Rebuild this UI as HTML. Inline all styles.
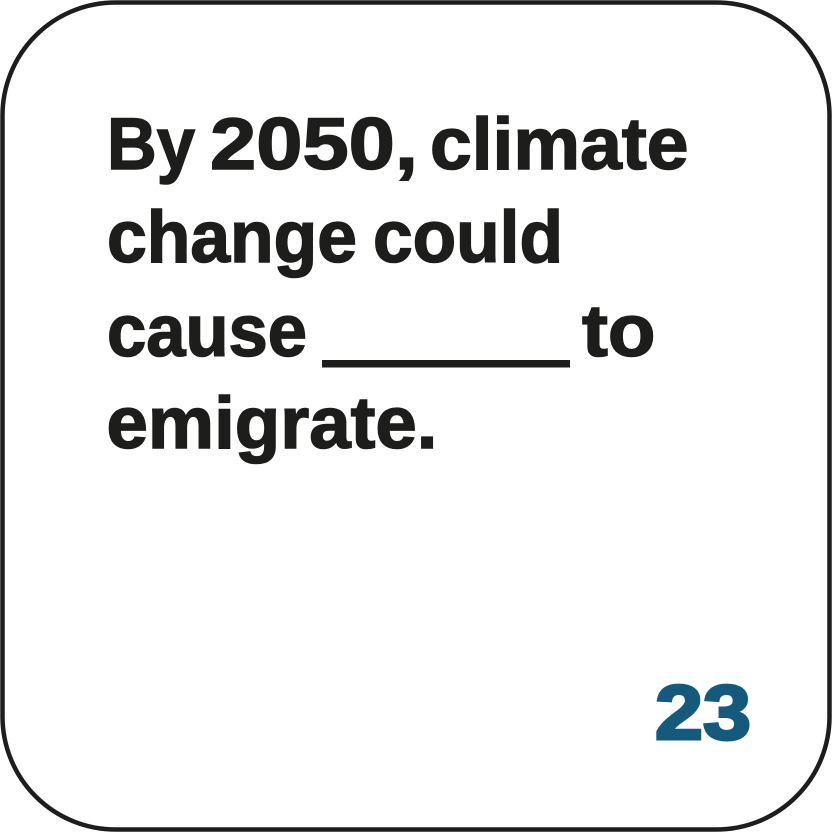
<!DOCTYPE html>
<html>
<head>
<meta charset="utf-8">
<style>
html,body{margin:0;padding:0;background:#fff;}
svg{display:block;}
text{font-family:"Liberation Sans",sans-serif;font-weight:700;}
.q{font-size:73px;fill:#1d1d1b;stroke:#1d1d1b;stroke-width:1.5px;}
.n{font-size:77px;fill:#155a7c;stroke:#155a7c;stroke-width:3px;}
</style>
</head>
<body>
<svg width="833" height="833" viewBox="0 0 833 833">
<rect x="2.5" y="2.5" width="827" height="827" rx="113" ry="113" fill="#fff" stroke="#1d1d1b" stroke-width="4.5"/>
<g>
<text class="q" x="107" y="169" textLength="88" lengthAdjust="spacingAndGlyphs">By</text>
<text class="q" x="210" y="169" textLength="208" lengthAdjust="spacingAndGlyphs">2050,</text>
<text class="q" x="430" y="169" textLength="258.5" lengthAdjust="spacingAndGlyphs">climate</text>
<text class="q" x="107" y="262" textLength="250" lengthAdjust="spacingAndGlyphs">change</text>
<text class="q" x="373" y="262" textLength="190" lengthAdjust="spacingAndGlyphs">could</text>
<text class="q" x="107" y="356" textLength="200" lengthAdjust="spacingAndGlyphs">cause</text>
<text class="q" x="582" y="356" textLength="73.5" lengthAdjust="spacingAndGlyphs">to</text>
<text class="q" x="106.5" y="448" textLength="331" lengthAdjust="spacingAndGlyphs">emigrate.</text>
</g>
<rect x="322" y="360" width="248" height="7.5" fill="#1d1d1b"/>
<text class="n" x="655" y="739" textLength="96" lengthAdjust="spacingAndGlyphs">23</text>
</svg>
</body>
</html>
